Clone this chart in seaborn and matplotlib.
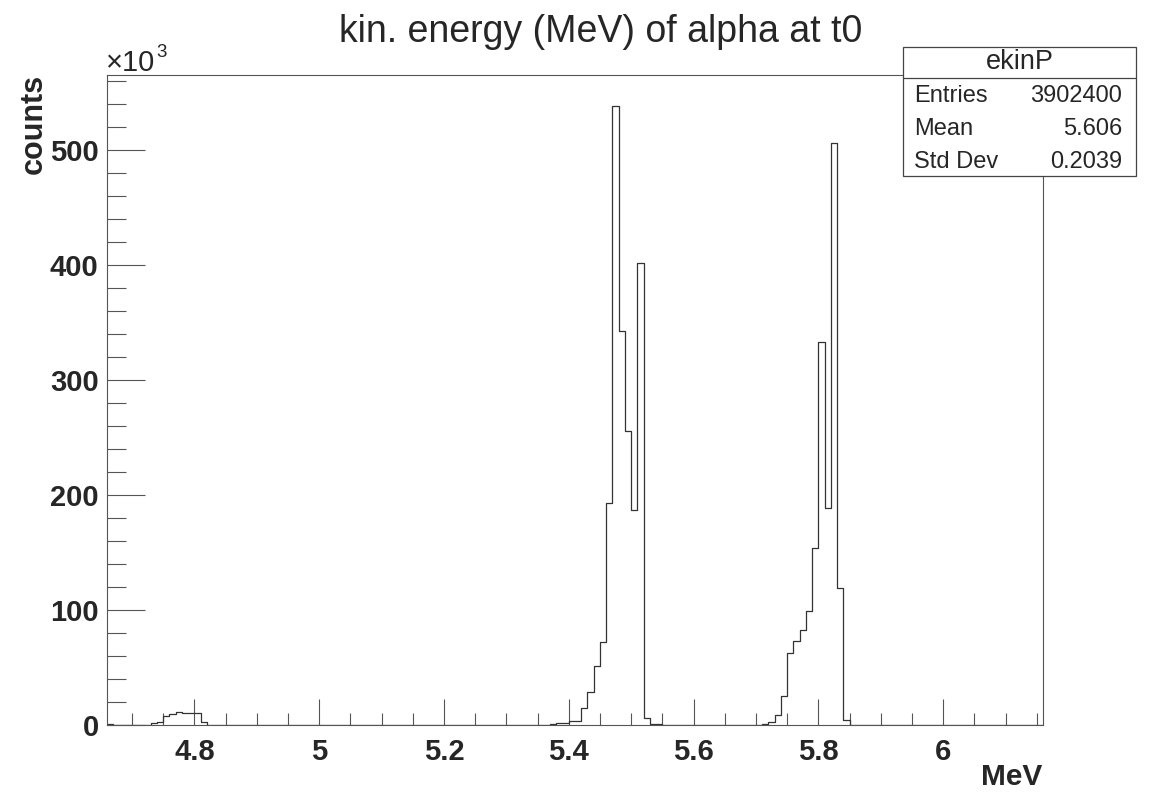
import numpy as np
import pandas as pd
import matplotlib
matplotlib.use("Agg")
import matplotlib.pyplot as plt
from matplotlib.patches import Rectangle
from matplotlib.lines import Line2D
import seaborn as sns

# histogram ekinP: 150 bins of 0.01 MeV, counts in units of 10^3
bin_lo = 4.66
bin_hi = 6.16
n_bins = 150
counts_k = [
    0.6, 0.1, 0.1, 0.1, 0.3, 0.3, 0.3, 1.4, 2.3, 8.1,
    9.5, 11.6, 10.7, 10.1, 10.7, 2.9, 0.3, 0.3, 0.3, 0.3,
    0.3, 0.3, 0.0, 0.0, 0.0, 0.0, 0.0, 0.0, 0.0, 0.0,
    0.0, 0.0, 0.0, 0.0, 0.0, 0.0, 0.0, 0.0, 0.0, 0.0,
    0.0, 0.0, 0.0, 0.0, 0.0, 0.0, 0.0, 0.0, 0.0, 0.0,
    0.0, 0.1, 0.0, 0.0, 0.0, 0.0, 0.0, 0.0, 0.0, 0.0,
    0.0, 0.0, 0.0, 0.0, 0.0, 0.0, 0.0, 0.0, 0.3, 0.3,
    0.3, 0.6, 1.5, 1.5, 3.6, 3.6, 14.5, 28.9, 51.5, 72.3,
    193.3, 537.9, 342.6, 255.8, 186.6, 401.6, 6.5, 0.6, 0.6, 0.0,
    0.0, 0.0, 0.0, 0.0, 0.0, 0.0, 0.0, 0.0, 0.0, 0.0,
    0.0, 0.0, 0.3, 0.3, 0.3, 0.5, 2.6, 8.7, 25.2, 62.5,
    72.9, 82.2, 99.5, 153.6, 333.0, 188.4, 505.5, 118.9, 4.3, 0.0,
    0.0, 0.0, 0.0, 0.0, 0.0, 0.0, 0.0, 0.0, 0.0, 0.0,
    0.0, 0.0, 0.0, 0.0, 0.0, 0.0, 0.0, 0.0, 0.0, 0.0,
    0.0, 0.0, 0.0, 0.0, 0.0, 0.0, 0.0, 0.0, 0.0, 0.0,
]

x_ticks = [4.8, 5.0, 5.2, 5.4, 5.6, 5.8, 6.0]
x_ticklabels = ["4.8", "5", "5.2", "5.4", "5.6", "5.8", "6"]
y_ticks = [0, 100, 200, 300, 400, 500]

title = "kin. energy (MeV) of alpha at t0"
stats_name = "ekinP"
stats_rows = [("Entries", "3902400"), ("Mean", "5.606"), ("Std Dev", "0.2039")]

#%% style
sns.set_style("ticks")
plt.rcParams["font.family"] = ["Liberation Sans", "DejaVu Sans"]

W, H = 1158, 792
def fx(px):
    return px / W
def fy(py):
    return 1 - py / H

edges = np.round(np.linspace(bin_lo, bin_hi, n_bins + 1), 2)
centers = (edges[:-1] + edges[1:]) / 2
df = pd.DataFrame({"energy": centers, "counts": counts_k})

fig = plt.figure(figsize=(W / 100, H / 100), dpi=100)
ax = fig.add_axes([fx(107), fy(725), 936 / W, 650 / H])

sns.histplot(data=df, x="energy", weights="counts", bins=edges.tolist(),
             element="step", fill=False, color="#333333", linewidth=0.9, ax=ax)

ax.set_xlim(bin_lo, bin_hi)
ax.set_ylim(0, 565)
ax.set_xlabel("")
ax.set_ylabel("")

ax.set_xticks(x_ticks)
ax.set_xticklabels(x_ticklabels)
ax.set_xticks(np.arange(4.7, 6.16, 0.05), minor=True)
ax.set_yticks(y_ticks)
ax.set_yticks(np.arange(0, 565, 20), minor=True)

for lab in ax.get_xticklabels() + ax.get_yticklabels():
    lab.set_fontweight("bold")
    lab.set_fontsize(21)

ax.tick_params(axis="both", which="both", direction="in", color="#555555",
               width=0.8, top=False, right=False)
ax.tick_params(axis="x", which="major", length=19, pad=9)
ax.tick_params(axis="x", which="minor", length=9)
ax.tick_params(axis="y", which="major", length=27, pad=6)
ax.tick_params(axis="y", which="minor", length=13.5)
for s in ax.spines.values():
    s.set_color("#555555")
    s.set_linewidth(0.8)
ax.grid(False)

# titles and axis labels, ROOT style
fig.text(fx(601), fy(32), title, ha="center", va="center", fontsize=27)
fig.text(fx(34), fy(74), "counts", rotation=90, ha="center", va="top",
         fontsize=22, fontweight="bold")
fig.text(fx(1042), fy(791), "MeV", ha="right", va="bottom",
         fontsize=21.5, fontweight="bold")
mult = fig.text(fx(106), fy(71), "\u00d710", ha="left", va="baseline", fontsize=21)
r = fig.canvas.get_renderer()
bb = mult.get_window_extent(renderer=r)
fig.text(fx(bb.x1 + 1), fy(57), "3", ha="left", va="baseline", fontsize=13.5)

# stats box
bx0, bx1, by0, by1, bsep = 903, 1136, 47, 176, 78
fig.add_artist(Rectangle((fx(bx0), fy(by1)), fx(bx1) - fx(bx0), fy(by0) - fy(by1),
                         transform=fig.transFigure, facecolor="white",
                         edgecolor="#444444", linewidth=0.9, zorder=5))
fig.add_artist(Line2D([fx(bx0), fx(bx1)], [fy(bsep), fy(bsep)],
                      transform=fig.transFigure, color="#444444",
                      linewidth=0.9, zorder=6))
fig.text(fx((bx0 + bx1) / 2), fy(62), stats_name, ha="center", va="center",
         fontsize=19.5, zorder=7)
for k, (name, val) in enumerate(stats_rows):
    yy = fy(96 + 33 * k)
    fig.text(fx(914), yy, name, ha="left", va="center", fontsize=17, zorder=7)
    fig.text(fx(1122), yy, val, ha="right", va="center", fontsize=17, zorder=7)

fig.savefig("out.png", dpi=100)
